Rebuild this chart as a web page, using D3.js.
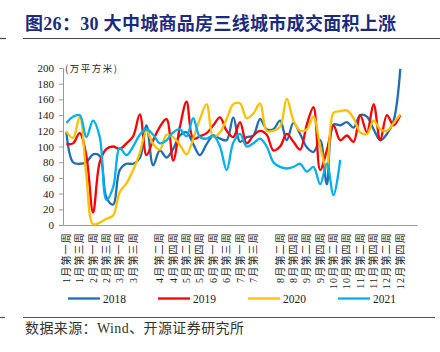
<!DOCTYPE html>
<html>
<head>
<meta charset="utf-8">
<title>30大中城商品房三线城市成交面积</title>
<script src="https://d3js.org/d3.v7.min.js"></script>
<style>
  body { margin: 0; background: #fff; }
  svg { display: block; }
  .axis path, .axis line { stroke: #9a9a9a; }
  .axis text { font-family: "Liberation Serif", "Noto Sans CJK SC", serif; fill: #222; }
  path.line { fill: none; stroke-width: 2.3px; stroke-linejoin: round; }
</style>
</head>
<body>
<script>
// ---- data ----
const years = ["2018", "2019", "2020", "2021"];
const colors = ["#1f6db5", "#ff0000", "#ffc000", "#00b0f0"];

// weeks in each month on the axis (52 weeks), plus one empty slot at the end
const weeksPerMonth = [4, 4, 5, 4, 5, 4, 5, 4, 4, 4, 4, 5];
const weekNames = ["第一周", "第二周", "第三周", "第四周", "第五周"];

const v2018 = [119, 80, 78, 80, 90, 88, 35, 26, 70, 78, 78, 85, 127, 76, 95, 86, 97, 114, 118, 103,
  89, 103, 114, 110, 108, 137, 106, 112, 114, 135, 122, 122, 133, 108, 130, 116, 99, 93, 108, 52,
  128, 127, 131, 124, 140, 138, 122, 108, 116, 133, 199];
const v2019 = [103, 104, 117, 88, 16, 80, 97, 100, 97, 104, 113, 141, 89, 108, 125, 135, 82, 125, 157, 110,
  113, 117, 127, 137, 120, 112, 131, 104, 114, 120, 115, 95, 100, 116, 106, 96, 128, 150, 70, 95,
  127, 108, 114, 106, 140, 118, 154, 108, 140, 127, 140];
const v2020 = [119, 111, 138, 62, 1, 3, 8, 12, 42, 53, 70, 92, 120, 103, 96, 115, 112, 102, 90, 110,
  135, 154, 112, 118, 135, 154, 155, 136, 142, 155, 120, 120, 125, 161, 133, 120, 122, 138, 100, 72,
  143, 145, 146, 136, 118, 116, 133, 122, 120, 130, 141];
const v2021 = [130, 138, 140, 112, 133, 112, 32, 48, 98, 89, 100, 115, 122, 115, 104, 108, 118, 122, 113, 136,
  112, 110, 114, 100, 70, 105, 116, 100, 104, 110, 100, 80, 74, 72, 74, 78, 68, 74, 52, 78,
  38, 83];

const seriesValues = [v2018, v2019, v2020, v2021];
const yTicks = [0, 20, 40, 60, 80, 100, 120, 140, 160, 180, 200];

// build the category labels
const weeks = [];
weeksPerMonth.forEach((n, m) => {
  for (let w = 0; w < n; w++) weeks.push((m + 1) + "月" + weekNames[w]);
});
weeks.push("");

// ---- chart ----
const width = 440, height = 352;
const plot = { left: 63, right: 417, top: 68, bottom: 225 };

const svg = d3.select("body").append("svg")
  .attr("width", width)
  .attr("height", height);

// title
svg.append("text")
  .attr("x", 25).attr("y", 30)
  .attr("fill", "#1b2a80")
  .attr("font-family", "'Liberation Serif', 'Noto Sans CJK SC', serif")
  .attr("font-weight", "bold")
  .attr("font-size", 18)
  .attr("letter-spacing", 0.3)
  .text("图26：30 大中城商品房三线城市成交面积上涨");

svg.append("line")
  .attr("x1", 23).attr("x2", 440).attr("y1", 38.5).attr("y2", 38.5)
  .attr("stroke", "#444").attr("stroke-width", 1.2);
svg.append("line")
  .attr("x1", 0).attr("x2", 6).attr("y1", 38.5).attr("y2", 38.5)
  .attr("stroke", "#444").attr("stroke-width", 1.2);

// scales
const x = d3.scaleBand()
  .domain(d3.range(weeks.length))
  .range([plot.left, plot.right]);
const cx = i => x(i) + x.bandwidth() / 2;

const y = d3.scaleLinear()
  .domain([0, 200])
  .range([plot.bottom, plot.top]);

// y axis
const yAxis = svg.append("g")
  .attr("class", "axis")
  .attr("transform", "translate(" + plot.left + ",0)")
  .call(d3.axisLeft(y).tickValues(yTicks).tickSize(4).tickPadding(5));
yAxis.selectAll("text").attr("font-size", 11);

// x axis
const showLabel = (d, i) => i % 2 === 0 && !/第五周/.test(weeks[i]);
const xAxis = svg.append("g")
  .attr("class", "axis")
  .attr("transform", "translate(0," + plot.bottom + ")")
  .call(d3.axisBottom(x).tickSize(0).tickFormat((d, i) => showLabel(d, i) ? weeks[i] : ""));
xAxis.select(".domain").attr("stroke", "#9a9a9a");
xAxis.selectAll("text")
  .attr("font-size", 10)
  .attr("letter-spacing", 1.2)
  .attr("transform", "rotate(-90)")
  .attr("text-anchor", "end")
  .attr("x", -7)
  .attr("y", 0)
  .attr("dy", "0.35em");

// unit
svg.append("text")
  .attr("x", 65).attr("y", 72)
  .attr("font-family", "'Noto Sans CJK SC', sans-serif")
  .attr("font-size", 9.5)
  .attr("letter-spacing", 1.5)
  .attr("fill", "#222")
  .text("(万平方米)");

// lines
const line = d3.line()
  .x((d, i) => cx(i))
  .y(d => y(d))
  .curve(d3.curveCatmullRom.alpha(0.5));

svg.append("g")
  .selectAll("path")
  .data(seriesValues)
  .join("path")
  .attr("class", "line")
  .attr("stroke", (d, i) => colors[i])
  .attr("d", d => line(d));

// legend
const legendX = [68, 158, 248, 338];
const legend = svg.append("g")
  .selectAll("g")
  .data(years)
  .join("g")
  .attr("transform", (d, i) => "translate(" + legendX[i] + ",298.5)");
legend.append("line")
  .attr("x1", 0).attr("x2", 32)
  .attr("stroke", (d, i) => colors[i])
  .attr("stroke-width", 2.3);
legend.append("text")
  .attr("x", 35).attr("dy", "0.35em")
  .attr("font-family", "'Liberation Serif', serif")
  .attr("font-size", 11.5)
  .attr("fill", "#222")
  .text(d => d);

// source
svg.append("line")
  .attr("x1", 23).attr("x2", 435).attr("y1", 317.5).attr("y2", 317.5)
  .attr("stroke", "#555").attr("stroke-width", 1.2);
svg.append("line")
  .attr("x1", 0).attr("x2", 5).attr("y1", 317.5).attr("y2", 317.5)
  .attr("stroke", "#555").attr("stroke-width", 1.2);
svg.append("text")
  .attr("x", 25).attr("y", 333)
  .attr("font-family", "'Liberation Serif', 'Noto Sans CJK SC', serif")
  .attr("font-size", 14)
  .attr("letter-spacing", 0.4)
  .attr("fill", "#333")
  .text("数据来源：Wind、开源证券研究所");
</script>
</body>
</html>
